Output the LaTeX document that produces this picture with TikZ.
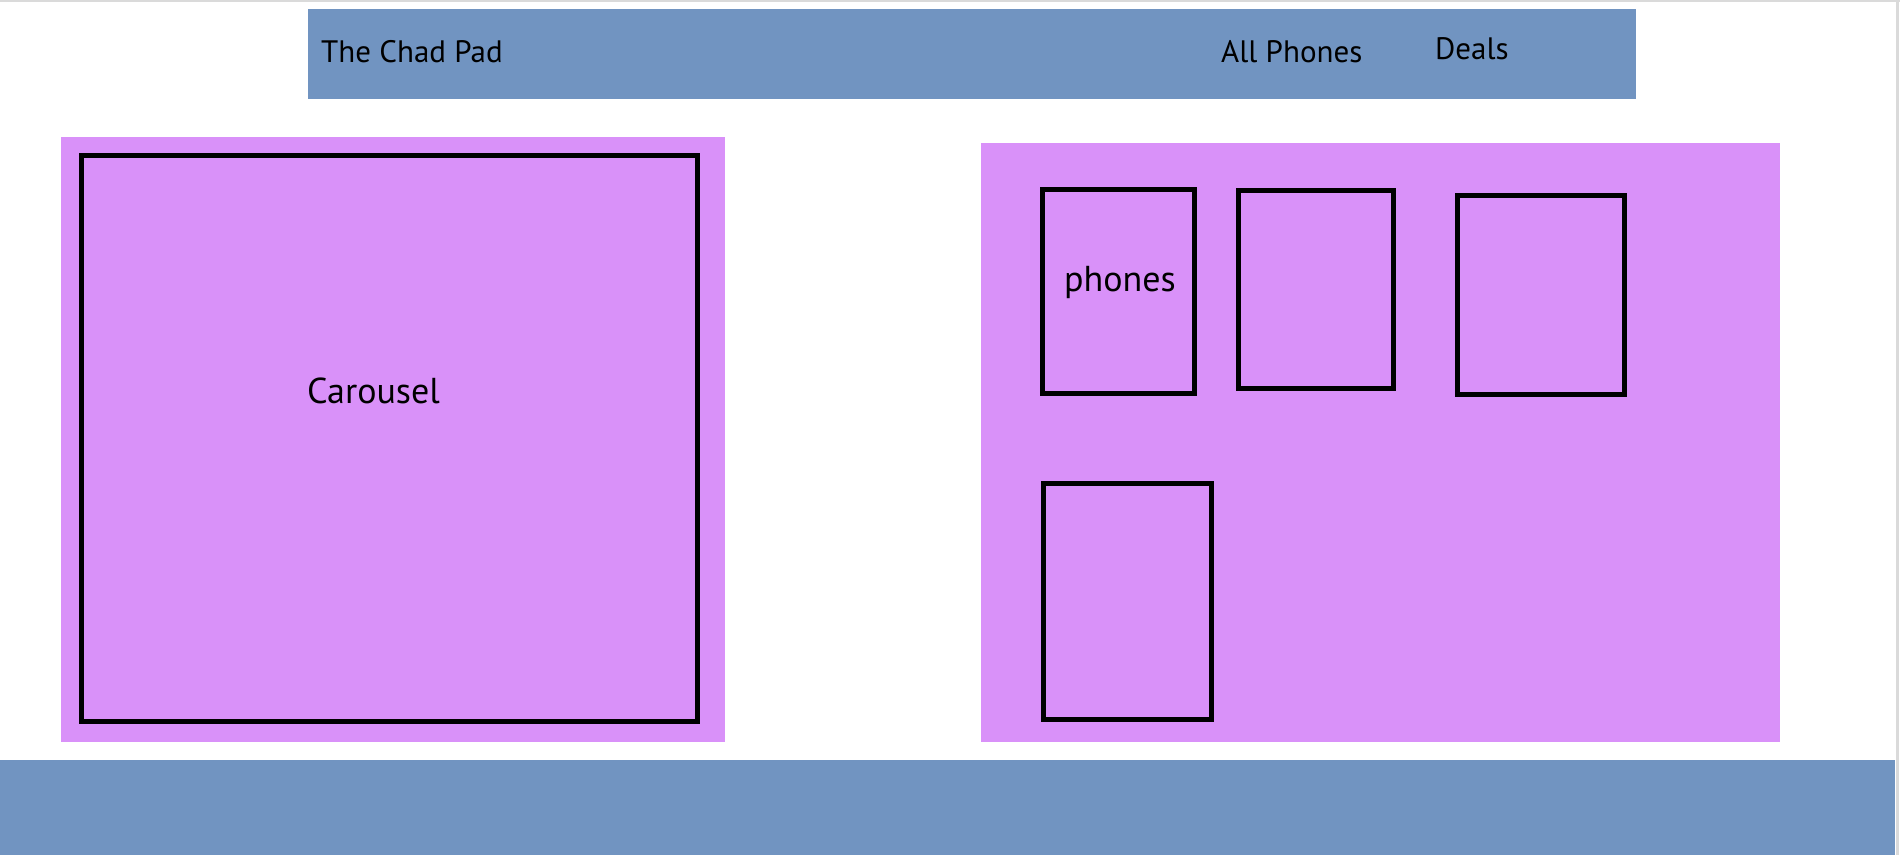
\documentclass[tikz,border=0pt]{standalone}
\usepackage{fontspec}
\setmainfont{PT Sans}
\definecolor{barblue}{HTML}{7194C1}
\definecolor{lilac}{HTML}{D991F9}
\definecolor{edgegrey}{HTML}{DADADA}
\tikzset{
  panel/.style={fill=lilac, draw=none},
  bar/.style={fill=barblue, draw=none},
  wire/.style={draw=black, line width=5.2pt, fill=none, inner sep=0pt, outer sep=0pt},
  navtext/.style={anchor=base west, inner sep=0pt, font=\fontsize{31}{34}\selectfont},
  bodytext/.style={anchor=base west, inner sep=0pt, font=\fontsize{36}{40}\selectfont}
}
\begin{document}
\begin{tikzpicture}[x=1pt,y=-1pt]
\useasboundingbox (0,0) rectangle (1900,855);
\fill[white] (0,0) rectangle (1900,855);
\draw[edgegrey, line width=2pt] (0,1) -- (1900,1);
\draw[edgegrey, line width=3pt] (1897.5,0) -- (1897.5,855);
% header bar
\fill[bar] (308,9) rectangle (1636,99);
\node[navtext] (title) at (321,62) {The Chad Pad};
\node[navtext] (allphones) at (1221,62) {All Phones};
\node[navtext] (deals) at (1435,59) {Deals};
% carousel panel
\fill[panel] (61,137) rectangle (725,742);
\node[wire, minimum width=616pt, minimum height=566pt] (carouselbox) at (389.5,438.5) {};
\node[bodytext] (carousel) at (307,403) {Carousel};
% phones panel
\fill[panel] (981,143) rectangle (1780,742);
\node[wire, minimum width=152pt, minimum height=204pt] (phone1) at (1118.5,291.5) {};
\node[wire, minimum width=155pt, minimum height=198pt] (phone2) at (1316,289.5) {};
\node[wire, minimum width=167pt, minimum height=199pt] (phone3) at (1541,295) {};
\node[wire, minimum width=168pt, minimum height=236pt] (phone4) at (1127.5,601.5) {};
\node[bodytext] (phones) at (1064,291) {phones};
% footer bar
\fill[bar] (0,760) rectangle (1895,855);
\end{tikzpicture}
\end{document}
